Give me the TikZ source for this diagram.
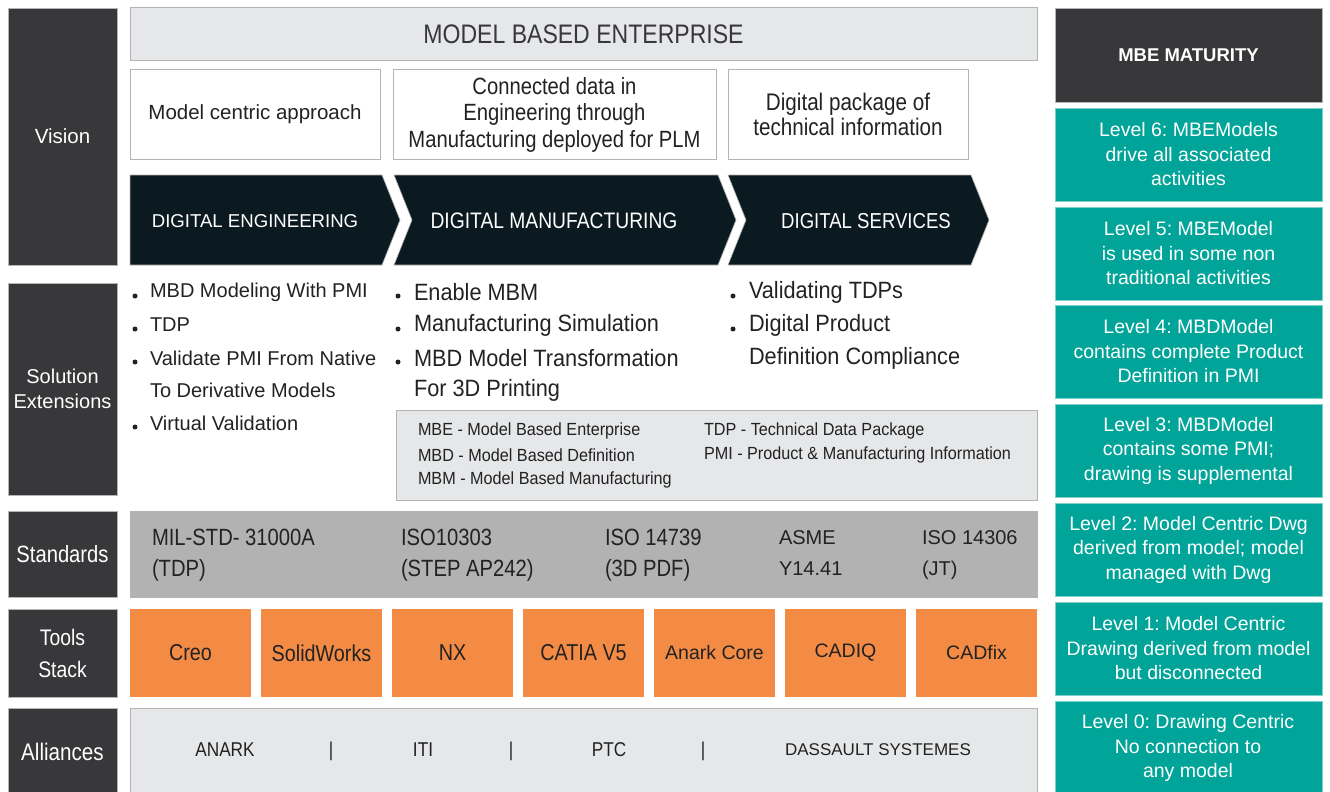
\documentclass[tikz,border=0pt]{standalone}
\usepackage{fontspec}
\setmainfont{Liberation Sans}
\newfontfamily\cond[FakeStretch=0.86]{Liberation Sans}
\newfontfamily\condb[FakeStretch=0.92]{Liberation Sans}
\frenchspacing
\definecolor{labc}{HTML}{38383A}
\definecolor{chev}{HTML}{0B1A21}
\definecolor{teal}{HTML}{00A498}
\definecolor{tealb}{HTML}{7FD0C9}
\definecolor{orng}{HTML}{F38B45}
\definecolor{stdg}{HTML}{B2B2B2}
\definecolor{lgray}{HTML}{E6E7E9}
\definecolor{bord}{HTML}{B4B4B4}
\definecolor{txt}{HTML}{222222}
\begin{document}
\begin{tikzpicture}[x=1pt,y=-1pt,
  every node/.style={inner sep=0pt, outer sep=0pt},
  labbox/.style={fill=labc, draw=bord, line width=0.8pt, anchor=north west, text=white, align=center},
  wbox/.style={fill=white, draw=bord, line width=1pt, anchor=north west, text=txt, align=center},
  gbox/.style={fill=lgray, draw=bord, line width=1pt, anchor=north west},
  tbox/.style={fill=teal, draw=tealb, line width=1pt, anchor=north west, minimum width=267pt, minimum height=93pt, text=white, align=center, font=\fontsize{19.5}{24.5}\selectfont},
  obox/.style={fill=orng, anchor=north west, minimum width=121pt, minimum height=88pt, text=txt, font=\cond\fontsize{23}{24}\selectfont},
  chevt/.style={text=white, font=\fontsize{18.6}{23}\selectfont},
  blt/.style={anchor=west, text=txt, font=\fontsize{20}{24}\selectfont},
  bltc/.style={anchor=west, text=txt, font=\condb\fontsize{23.6}{24}\selectfont},
  dot/.style={circle, fill=txt, minimum size=5pt},
  abb/.style={anchor=west, text=txt, font=\condb\fontsize{17.6}{18}\selectfont},
  stdt/.style={anchor=north west, text=txt, align=left, font=\cond\fontsize{23.5}{31}\selectfont},
  allt/.style={text=txt, font=\cond\fontsize{20}{20}\selectfont}
]
\useasboundingbox (0,0) rectangle (1330,792);
\fill[white] (0,0) rectangle (1330,792);

% left labels
\node[labbox, minimum width=109pt, minimum height=257pt, font=\fontsize{20.5}{24}\selectfont] (lvision) at (8,8) {Vision};
\node[labbox, minimum width=109pt, minimum height=212pt, font=\fontsize{20}{24.5}\selectfont] (lsol) at (8,283) {Solution\\Extensions};
\node[labbox, minimum width=109pt, minimum height=86pt, font=\cond\fontsize{23.5}{24}\selectfont] (lstd) at (8,511) {Standards};
\node[labbox, minimum width=109pt, minimum height=88pt, font=\cond\fontsize{22.5}{32}\selectfont] (ltools) at (8,609) {Tools\\Stack};
\node[labbox, minimum width=109pt, minimum height=88pt, font=\cond\fontsize{24}{24}\selectfont] (lall) at (8,708) {Alliances};

% top
\node[gbox, minimum width=907pt, minimum height=53pt, text=labc, font=\cond\fontsize{26.8}{30}\selectfont] (mbe) at (130,8) {MODEL BASED ENTERPRISE};

% white boxes
\node[wbox, minimum width=250pt, minimum height=89pt, font=\fontsize{20.5}{24}\selectfont] (w1) at (130,70) {Model centric approach};
\node[wbox, minimum width=323pt, minimum height=89pt, font=\cond\fontsize{23.5}{26.5}\selectfont] (w2) at (393,70) {Connected data in\\Engineering through\\Manufacturing deployed for PLM};
\node[wbox, minimum width=240pt, minimum height=89pt, font=\cond\fontsize{24}{25}\selectfont] (w3) at (728,70) {Digital package of\\technical information};

% chevrons
\fill[chev, draw=bord, line width=0.6pt] (130,175) -- (382,175) -- (400,220) -- (382,265) -- (130,265) -- cycle;
\fill[chev, draw=bord, line width=0.6pt] (394,175) -- (718,175) -- (736,220) -- (718,265) -- (394,265) -- (412,220) -- cycle;
\fill[chev, draw=bord, line width=0.6pt] (728,175) -- (971,175) -- (989,220) -- (971,265) -- (728,265) -- (746,220) -- cycle;
\node[chevt] (c1) at (255,221) {DIGITAL ENGINEERING};
\node[chevt, font=\cond\fontsize{22.4}{23}\selectfont] (c2) at (554,221) {DIGITAL MANUFACTURING};
\node[chevt, font=\cond\fontsize{21.6}{23}\selectfont] (c3) at (866,221) {DIGITAL SERVICES};

% bullets column 1
\node[dot] (d11) at (135,296) {};
\node[blt] (b11) at (150,292) {MBD Modeling With PMI};
\node[dot] (d12) at (135,329) {};
\node[blt] (b12) at (150,325) {TDP};
\node[dot] (d13) at (135,362) {};
\node[blt] (b13) at (150,358) {Validate PMI From Native};
\node[blt] (b14) at (150,390) {To Derivative Models};
\node[dot] (d15) at (135,427) {};
\node[blt] (b15) at (150,423) {Virtual Validation};

% bullets column 2
\node[dot] (d21) at (398,296) {};
\node[bltc] (b21) at (414,292) {Enable MBM};
\node[dot] (d22) at (398,329) {};
\node[bltc] (b22) at (414,325) {Manufacturing Simulation};
\node[dot] (d23) at (398,362) {};
\node[bltc] (b23) at (414,358) {MBD Model Transformation};
\node[bltc] (b24) at (414,390) {For 3D Printing};

% bullets column 3
\node[dot] (d31) at (733,296) {};
\node[bltc] (b31) at (749,292) {Validating TDPs};
\node[dot] (d32) at (733,329) {};
\node[bltc] (b32) at (749,325) {Digital Product};
\node[bltc] (b33) at (749,358) {Definition Compliance};

% abbreviations
\node[gbox, minimum width=641pt, minimum height=90pt] (abbr) at (396,410) {};
\node[abb] (a1) at (418,431) {MBE - Model Based Enterprise};
\node[abb] (a2) at (418,455) {MBD - Model Based Definition};
\node[abb] (a3) at (418,480) {MBM - Model Based Manufacturing};
\node[abb] (a4) at (704,431) {TDP - Technical Data Package};
\node[abb] (a5) at (704,455) {PMI - Product \& Manufacturing Information};

% standards
\node[fill=stdg, draw=bord, line width=1pt, anchor=north west, minimum width=907pt, minimum height=86pt] (std) at (130,511) {};
\node[stdt] (s1) at (152,529) {MIL-STD- 31000A\\(TDP)};
\node[stdt] (s2) at (401,529) {ISO10303\\(STEP AP242)};
\node[stdt] (s3) at (605,529) {ISO 14739\\(3D PDF)};
\node[stdt, font=\fontsize{20}{31}\selectfont] (s4) at (779,531) {ASME\\Y14.41};
\node[stdt, font=\fontsize{20}{31}\selectfont] (s5) at (922,531) {ISO 14306\\(JT)};

% tools
\node[obox] (t1) at (130,609) {Creo};
\node[obox] (t2) at (261,609) {SolidWorks};
\node[obox] (t3) at (392,609) {NX};
\node[obox] (t4) at (523,609) {CATIA V5};
\node[obox, font=\fontsize{19.5}{24}\selectfont] (t5) at (654,609) {Anark Core};
\node[obox, font=\fontsize{19.5}{24}\selectfont] (t6) at (785,609) {CADIQ};
\node[obox, font=\fontsize{19.5}{24}\selectfont] (t7) at (916,609) {CADfix};

% alliances
\node[gbox, minimum width=907pt, minimum height=95pt] (all) at (130,708) {};
\node[allt] (al1) at (225,750) {ANARK};
\node[allt] (al2) at (331,751) {|};
\node[allt] (al3) at (423,750) {ITI};
\node[allt] (al4) at (511,751) {|};
\node[allt] (al5) at (609,750) {PTC};
\node[allt] (al6) at (703,751) {|};
\node[allt, font=\fontsize{17}{20}\selectfont] (al7) at (878,750) {DASSAULT SYSTEMES};

% right column
\node[labbox, minimum width=267pt, minimum height=94pt, font=\bfseries\fontsize{18.5}{22}\selectfont] (mat) at (1055,8) {MBE MATURITY};
\node[tbox] (lv6) at (1055,108) {Level 6: MBEModels\\drive all associated\\activities};
\node[tbox] (lv5) at (1055,207) {Level 5: MBEModel\\is used in some non\\traditional activities};
\node[tbox] (lv4) at (1055,305) {Level 4: MBDModel\\contains complete Product\\Definition in PMI};
\node[tbox] (lv3) at (1055,404) {Level 3: MBDModel\\contains some PMI;\\drawing is supplemental};
\node[tbox] (lv2) at (1055,503) {Level 2: Model Centric Dwg\\derived from model; model\\managed with Dwg};
\node[tbox] (lv1) at (1055,602) {Level 1: Model Centric\\Drawing derived from model\\but disconnected};
\node[tbox, minimum height=100pt] (lv0) at (1055,701) {};
\node[text=white, align=center, font=\fontsize{19.5}{24.5}\selectfont] (lv0t) at (1188,748) {Level 0: Drawing Centric\\No connection to\\any model};
\end{tikzpicture}
\end{document}
